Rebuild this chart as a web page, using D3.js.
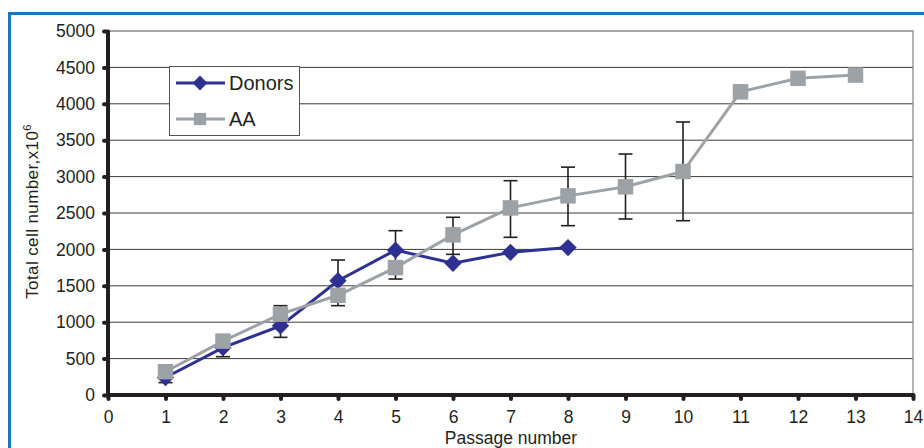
<!DOCTYPE html>
<html><head><meta charset="utf-8">
<script src="https://cdn.jsdelivr.net/npm/d3@7"></script>
<style>body{margin:0;background:#fff}svg{display:block}text{font-family:"Liberation Sans",Arial,sans-serif;fill:#231f20}</style>
</head><body><svg id="c" width="924" height="448"></svg>
<script>
const passages = [1,2,3,4,5,6,7,8,9,10,11,12,13];
const donors = [240, 650, 950, 1570, 1990, 1810, 1960, 2025];
const aa = [320, 740, 1110, 1370, 1750, 2200, 2570, 2735, 2860, 3070, 4165, 4350, 4395];
const errLow  = [170, 526, 792, 1227, 1593, 1932, 2166, 2326, 2418, 2394];
const errHigh = [310, 775, 1227, 1854, 2257, 2441, 2944, 3130, 3310, 3750];
const xTicks = d3.range(0, 15);
const yTicks = d3.range(0, 5001, 500);
const seriesNames = ["Donors", "AA"];

const svg = d3.select("#c");
const x = d3.scaleLinear().domain([0,14]).range([108,913]);
const y = d3.scaleLinear().domain([0,5000]).range([395,31]);
const navy = "#2e3192", grey = "#9da2a7";

svg.append("path").attr("d","M9.5,448 V13.5 H924").attr("fill","none").attr("stroke","#1b75bc").attr("stroke-width",3);

svg.append("g").selectAll("line").data(yTicks.filter(d=>d>0 && d<5000)).join("line")
  .attr("x1",x(0)).attr("x2",x(14)).attr("y1",d=>y(d)).attr("y2",d=>y(d))
  .attr("stroke","#3a3a3a").attr("stroke-width",1);
svg.append("path").attr("d",`M${x(0)},${y(5000)} H${x(14)} V${y(0)}`).attr("fill","none").attr("stroke","#8a8a8a").attr("stroke-width",1.3);

const yAxis = d3.axisLeft(y).tickValues(yTicks).tickFormat(d3.format("d")).tickSize(4).tickPadding(9);
const gy = svg.append("g").attr("transform",`translate(${x(0)},0)`).call(yAxis);
const xAxis = d3.axisBottom(x).tickValues(xTicks).tickFormat(d3.format("d")).tickSize(4).tickPadding(12);
const gx = svg.append("g").attr("transform",`translate(0,${y(0)})`).call(xAxis);
[gy,gx].forEach(g=>{
  g.attr("font-size",null).attr("font-family",null);
  g.select(".domain").attr("stroke","#231f20").attr("stroke-width",4);
  g.selectAll(".tick line").attr("stroke","#231f20").attr("stroke-width",4).attr("stroke-linecap","round");
  g.selectAll(".tick text").style("font-size","17.5px").attr("fill","#231f20");
});
gx.select(".domain").attr("d",`M${x(0)},0H${x(14)}`);
gy.select(".domain").attr("d",`M0,${y(0)}V${y(5000)}`);

const eb = svg.append("g").attr("stroke","#231f20").attr("stroke-width",1.6);
errLow.forEach((lo,i)=>{
  const px = x(passages[i]);
  eb.append("line").attr("x1",px).attr("x2",px).attr("y1",y(lo)).attr("y2",y(errHigh[i]));
  eb.append("line").attr("x1",px-7).attr("x2",px+7).attr("y1",y(lo)).attr("y2",y(lo));
  eb.append("line").attr("x1",px-7).attr("x2",px+7).attr("y1",y(errHigh[i])).attr("y2",y(errHigh[i]));
});

const line = d3.line().x((d,i)=>x(passages[i])).y(d=>y(d));
svg.append("path").datum(donors).attr("d",line).attr("fill","none").attr("stroke",navy).attr("stroke-width",3);
svg.append("path").datum(aa).attr("d",line).attr("fill","none").attr("stroke",grey).attr("stroke-width",3);

svg.append("g").selectAll("path").data(donors).join("path")
  .attr("transform",(d,i)=>`translate(${x(passages[i])},${y(d)}) rotate(45)`)
  .attr("d",d3.symbol().type(d3.symbolSquare).size(150)).attr("fill",navy);
svg.append("g").selectAll("path").data(aa).join("path")
  .attr("transform",(d,i)=>`translate(${x(passages[i])},${y(d)})`)
  .attr("d",d3.symbol().type(d3.symbolSquare).size(240)).attr("fill",grey);

const lg = svg.append("g");
lg.append("rect").attr("x",169.5).attr("y",66.5).attr("width",130).attr("height",69).attr("fill","#fff").attr("stroke","#555").attr("stroke-width",1);
const items = [{n:seriesNames[0],c:navy,s:"d",yy:83},{n:seriesNames[1],c:grey,s:"s",yy:119}];
items.forEach(it=>{
  lg.append("line").attr("x1",176).attr("x2",225).attr("y1",it.yy).attr("y2",it.yy).attr("stroke",it.c).attr("stroke-width",3);
  if(it.s==="d") lg.append("path").attr("transform",`translate(200,${it.yy}) rotate(45)`).attr("d",d3.symbol().type(d3.symbolSquare).size(110)).attr("fill",it.c);
  else lg.append("path").attr("transform",`translate(200,${it.yy})`).attr("d",d3.symbol().type(d3.symbolSquare).size(150)).attr("fill",it.c);
  lg.append("text").attr("x",229).attr("y",it.yy+7).style("font-size","20px").text(it.n);
});

const yt = svg.append("text").attr("transform","translate(38,211.5) rotate(-90)").attr("text-anchor","middle").style("font-size","17px").style("letter-spacing","0.4px");
yt.append("tspan").text("Total cell number,x10");
yt.append("tspan").attr("dy",-7).style("font-size","11px").text("6");
svg.append("text").attr("x",511).attr("y",444).attr("text-anchor","middle").style("font-size","17.5px").text("Passage number");
</script></body></html>
